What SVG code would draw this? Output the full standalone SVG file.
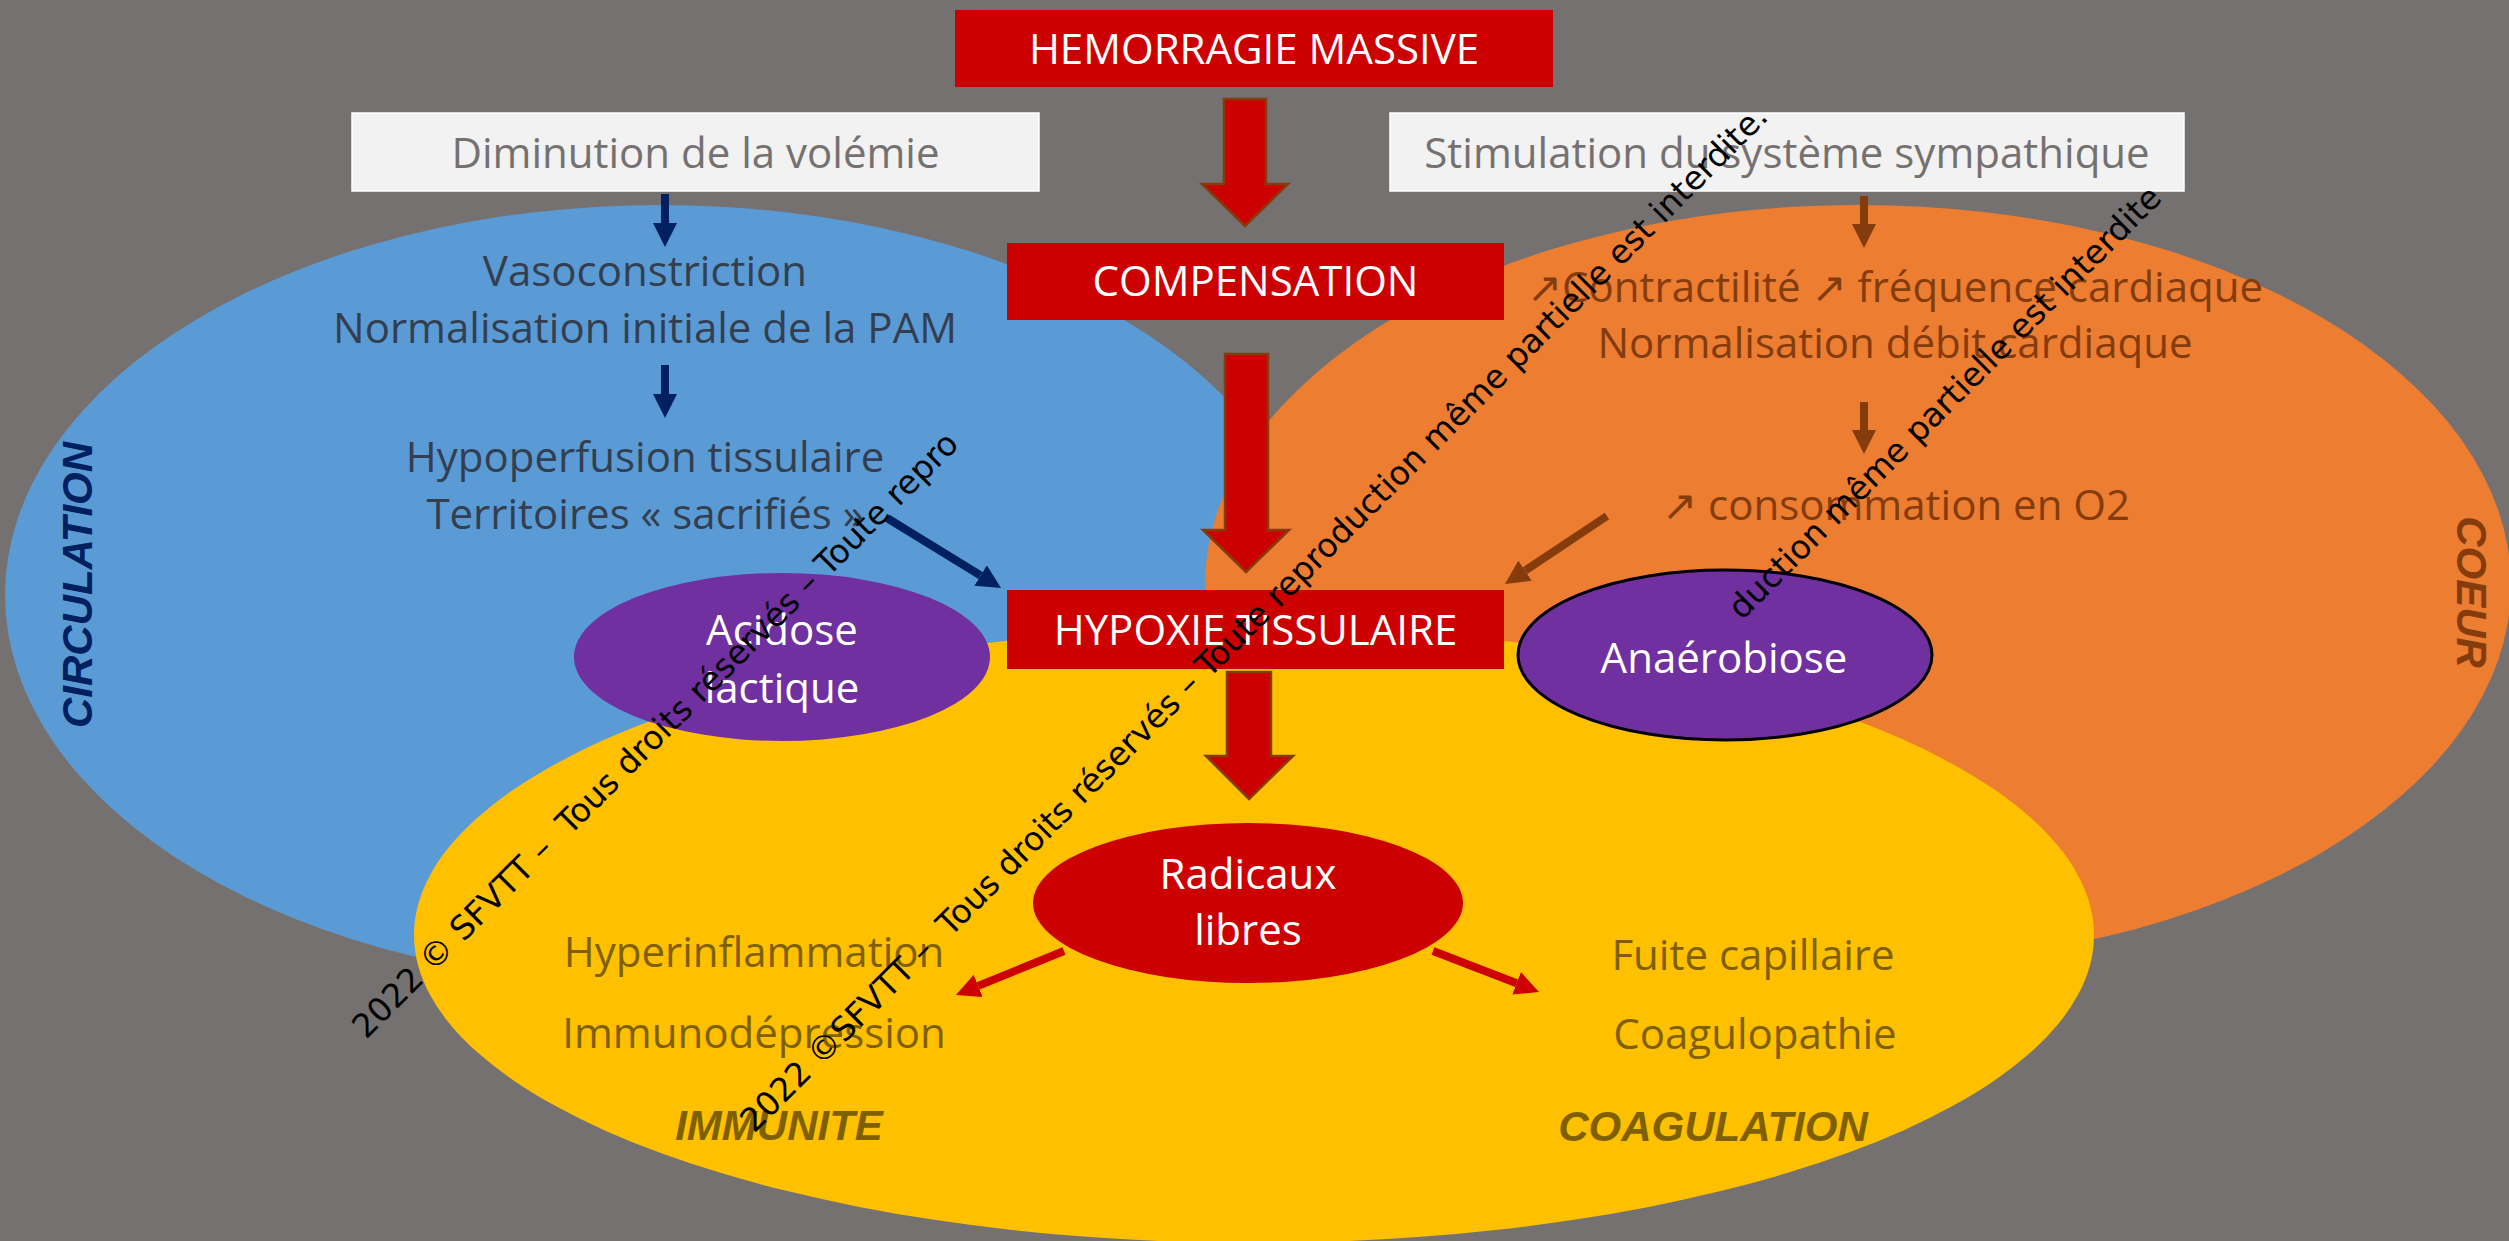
<svg xmlns="http://www.w3.org/2000/svg" width="2509" height="1241" viewBox="0 0 2509 1241">
<defs>
<style>
.t{font-family:"Open Sans","DejaVu Sans",sans-serif;font-size:42px;text-anchor:middle}
.w{fill:#FFFFFF}
.g{fill:#767171}
.b{fill:#333F50}
.o{fill:#843C0C}
.y{fill:#7F6000}
.lbl{font-family:"Liberation Sans",Arial,sans-serif;font-size:42px;font-weight:bold;font-style:italic;text-anchor:middle}
.rbox{fill:#CC0000}
.wbox{fill:#F2F2F2;stroke:#FFFFFF;stroke-width:1.5}
.blk{fill:#CC0000;stroke:#843C0C;stroke-width:2.5;stroke-linejoin:miter}
.wm{font-family:"DejaVu Sans",sans-serif;font-size:33px;fill:#000000;white-space:pre}
.ln{fill:none;stroke-width:8}
.nv{stroke:#002060}
.br{stroke:#843C0C}
.rd{stroke:#CC0000}
.pur{fill:#7030A0}
</style>
<marker id="mN" markerUnits="userSpaceOnUse" markerWidth="24" markerHeight="24" viewBox="0 0 24 24" refX="0" refY="12" orient="auto"><path d="M0,0 L24,12 L0,24 z" fill="#002060"/></marker>
<marker id="mB" markerUnits="userSpaceOnUse" markerWidth="24" markerHeight="24" viewBox="0 0 24 24" refX="0" refY="12" orient="auto"><path d="M0,0 L24,12 L0,24 z" fill="#843C0C"/></marker>
<marker id="mR" markerUnits="userSpaceOnUse" markerWidth="24" markerHeight="24" viewBox="0 0 24 24" refX="0" refY="12" orient="auto"><path d="M0,0 L24,12 L0,24 z" fill="#CC0000"/></marker>
</defs>
<rect x="0" y="0" width="2509" height="1241" fill="#767171"/>
<g id="circulation">
<ellipse cx="660" cy="595" rx="655" ry="390" fill="#5B9BD5"/>
</g>
<g id="coeur">
<ellipse cx="1858" cy="585" rx="653" ry="380" fill="#ED7D31"/>
</g>
<g id="immunite-coagulation">
<ellipse cx="1254" cy="935" rx="840" ry="308" fill="#FFC000"/>
</g>
<g id="labels-zones">
<text class="lbl" fill="#002060" transform="translate(92,585) rotate(-90)">CIRCULATION</text>
<text class="lbl" fill="#843C0C" transform="translate(2457,592) rotate(90)">COEUR</text>
<text class="lbl" fill="#7F6000" x="779" y="1140">IMMUNITE</text>
<text class="lbl" fill="#7F6000" x="1713" y="1141">COAGULATION</text>
</g>
<g id="hemorragie">
<rect class="rbox" x="955" y="10" width="598" height="77"/>
<text class="t w" x="1254" y="64">HEMORRAGIE MASSIVE</text>
</g>
<g id="compensation">
<rect class="rbox" x="1007" y="243" width="497" height="77"/>
<text class="t w" x="1255.5" y="296">COMPENSATION</text>
</g>
<g id="hypoxie">
<rect class="rbox" x="1007" y="590" width="497" height="79"/>
<text class="t w" x="1255.5" y="645">HYPOXIE TISSULAIRE</text>
</g>
<g id="diminution">
<rect class="wbox" x="352" y="113" width="687" height="78"/>
<text class="t g" x="695.5" y="168">Diminution de la volémie</text>
</g>
<g id="stimulation">
<rect class="wbox" x="1390" y="113" width="794" height="78"/>
<text class="t g" x="1787" y="168">Stimulation du système sympathique</text>
</g>
<g id="vasoconstriction">
<text class="t b" x="645" y="286">Vasoconstriction</text>
<text class="t b" x="645" y="343">Normalisation initiale de la PAM</text>
</g>
<g id="hypoperfusion">
<text class="t b" x="645" y="472">Hypoperfusion tissulaire</text>
<text class="t b" x="645" y="529">Territoires « sacrifiés »</text>
</g>
<g id="contractilite">
<text class="t o" x="1895" y="302">↗Contractilité ↗ fréquence cardiaque</text>
<text class="t o" x="1895" y="358">Normalisation débit cardiaque</text>
</g>
<g id="consommation">
<text class="t o" x="1896" y="520">↗ consommation en O2</text>
</g>
<g id="acidose">
<ellipse class="pur" cx="782" cy="657" rx="208" ry="84"/>
<text class="t w" x="782" y="645">Acidose</text>
<text class="t w" x="782" y="703">lactique</text>
</g>
<g id="anaerobiose">
<ellipse class="pur" cx="1725" cy="655" rx="207" ry="85" stroke="#000000" stroke-width="3"/>
<text class="t w" x="1724" y="673">Anaérobiose</text>
</g>
<g id="radicaux">
<ellipse cx="1248" cy="903" rx="215" ry="80" fill="#CC0000"/>
<text class="t w" x="1248" y="889">Radicaux</text>
<text class="t w" x="1248" y="945">libres</text>
</g>
<g id="immunite-items">
<text class="t y" x="754" y="967">Hyperinflammation</text>
<text class="t y" x="754" y="1048">Immunodépression</text>
</g>
<g id="coagulation-items">
<text class="t y" x="1753" y="970">Fuite capillaire</text>
<text class="t y" x="1755" y="1049">Coagulopathie</text>
</g>
<g id="connectors">
<polygon class="blk" points="1224,99 1266,99 1266,184 1288,184 1245,226 1202,184 1224,184"/>
<polygon class="blk" points="1225,354 1268,354 1268,530 1289,530 1246,572 1203,530 1225,530"/>
<polygon class="blk" points="1227,672 1271,672 1271,756 1293,756 1249,799 1206,756 1227,756"/>
<line class="ln nv" x1="665" y1="194" x2="665" y2="223" marker-end="url(#mN)"/>
<line class="ln nv" x1="665" y1="365" x2="665" y2="394" marker-end="url(#mN)"/>
<line class="ln nv" x1="887" y1="518" x2="980.6" y2="575.5" marker-end="url(#mN)"/>
<line class="ln br" x1="1864" y1="196" x2="1864" y2="224" marker-end="url(#mB)"/>
<line class="ln br" x1="1864" y1="402" x2="1864" y2="430" marker-end="url(#mB)"/>
<line class="ln br" x1="1607" y1="516" x2="1525" y2="570.7" marker-end="url(#mB)"/>
<line class="ln rd" x1="1064" y1="951" x2="978.2" y2="985.9" marker-end="url(#mR)"/>
<line class="ln rd" x1="1433" y1="951" x2="1516.6" y2="983.3" marker-end="url(#mR)"/>
</g>
<g id="watermarks">
<text class="wm" transform="translate(366,1040) rotate(-45)">2022 © SFVTT –  Tous droits réservés – Toute repro</text>
<text class="wm" transform="translate(754,1134) rotate(-45)">2022 ©SFVTT –  Tous droits réservés – Toute reproduction même partielle est interdite.</text>
<text class="wm" transform="translate(1742,621) rotate(-45)">duction même partielle est interdite</text>
</g>
</svg>
